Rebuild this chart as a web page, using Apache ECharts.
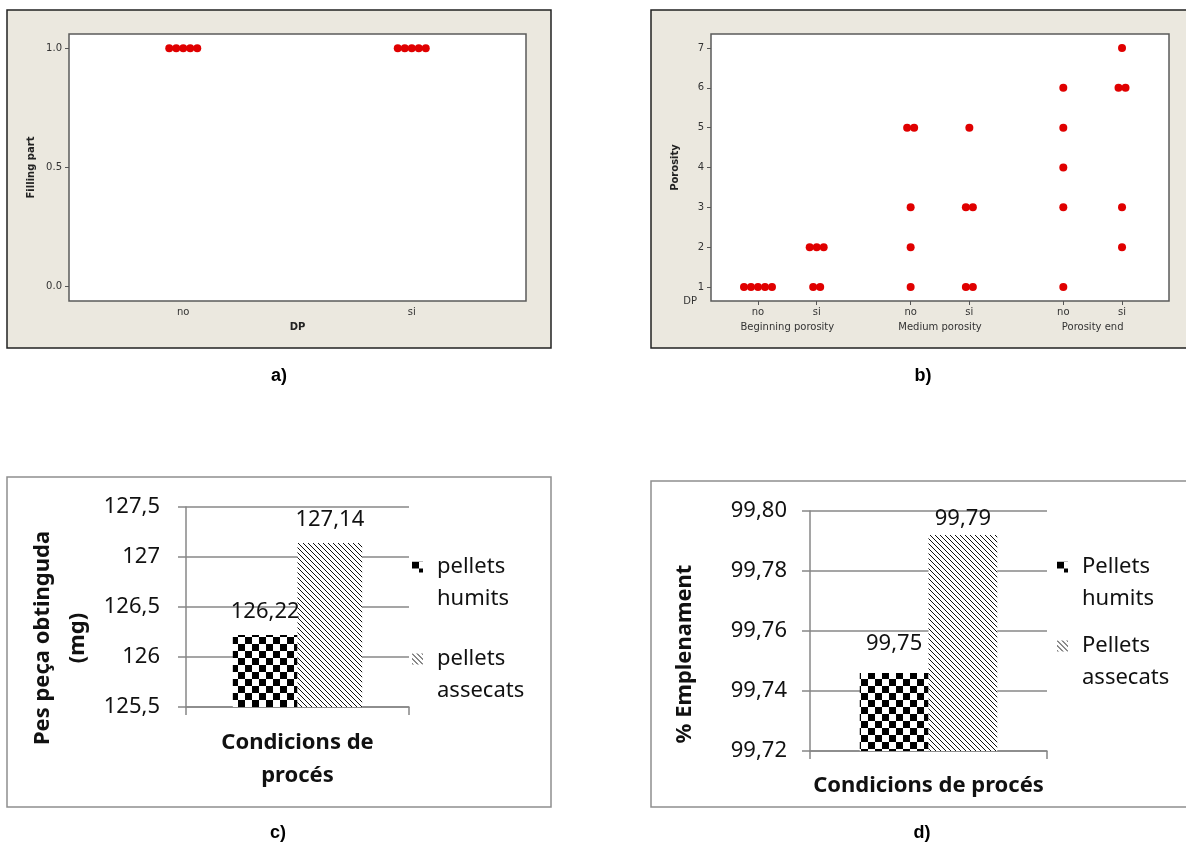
<!DOCTYPE html>
<html>
<head>
<meta charset="utf-8">
<script src="https://cdn.jsdelivr.net/npm/echarts@6/dist/echarts.min.js"></script>
<style>
  html, body { margin: 0; padding: 0; background: #fff; }
  #main { width: 1186px; height: 850px; }
</style>
</head>
<body>
<div id="main"></div>
<script>
// a) filling part by DP
const dpLevels = ['no', 'si'];
const fillingNo = [1, 1, 1, 1, 1];
const fillingSi = [1, 1, 1, 1, 1];
const fillingTicks = [0, 0.5, 1];

// b) porosity by zone and DP
const zones = ['Beginning porosity', 'Medium porosity', 'Porosity end'];
const porosityNo = [[1, 1, 1, 1, 1], [1, 2, 3, 5, 5], [1, 3, 4, 5, 6]];
const porositySi = [[1, 1, 2, 2, 2], [1, 1, 3, 3, 5], [2, 3, 6, 6, 7]];
const porosityTicks = [1, 2, 3, 4, 5, 6, 7];

// c) weight of the part
const weightNames = ['pellets humits', 'pellets assecats'];
const weightValues = [126.22, 127.14];

// d) filling percentage
const fillNames = ['Pellets humits', 'Pellets assecats'];
const fillValues = [99.746, 99.792];

const minitabFont = 'DejaVu Sans';
const excelFont = 'Noto Sans';
const dotRed = '#e00000';
const gridGray = '#878787';

// dot plot: equal values are laid side by side around the x position
function dotData(x, values) {
  const count = {}, seen = {};
  values.forEach(v => { count[v] = (count[v] || 0) + 1; });
  return values.map(v => {
    const k = seen[v] = (seen[v] || 0) + 1;
    return { value: [x, v], symbolOffset: [(k - 1 - (count[v] - 1) / 2) * 7, 0] };
  });
}

// b positions: two DP levels per zone, a wider gap between zones
const zoneStep = 2.6;
const slotX = [];
zones.forEach((z, zi) => dpLevels.forEach((d, j) => slotX.push(zi * zoneStep + j)));
const zoneX = zones.map((z, zi) => zi * zoneStep + 0.5);

let porosityDots = [];
zones.forEach((z, zi) => {
  porosityDots = porosityDots.concat(dotData(slotX[zi * 2], porosityNo[zi]));
  porosityDots = porosityDots.concat(dotData(slotX[zi * 2 + 1], porositySi[zi]));
});

function checker() {
  const c = document.createElement('canvas');
  c.width = c.height = 14;
  const g = c.getContext('2d');
  g.fillStyle = '#fff'; g.fillRect(0, 0, 14, 14);
  g.fillStyle = '#000'; g.fillRect(0, 0, 7, 7); g.fillRect(7, 7, 7, 7);
  return c;
}
function hatch() {
  const s = 5;
  const c = document.createElement('canvas');
  c.width = c.height = s;
  const g = c.getContext('2d');
  g.fillStyle = '#fff'; g.fillRect(0, 0, s, s);
  g.strokeStyle = '#111'; g.lineWidth = 1;
  g.beginPath();
  g.moveTo(-1, -1); g.lineTo(s + 1, s + 1);
  g.moveTo(-1, s - 1); g.lineTo(1, s + 1);
  g.moveTo(s - 1, -1); g.lineTo(s + 1, 1);
  g.stroke();
  return c;
}
const patterns = [
  { image: checker(), repeat: 'repeat' },
  { image: hatch(), repeat: 'repeat' }
];

const comma = (v, d) => (d == null ? String(v) : v.toFixed(d)).replace('.', ',');

const mtLabel = { fontFamily: minitabFont, fontSize: 10, color: '#333' };
const mtTitle = { fontFamily: minitabFont, fontSize: 10, fontWeight: 'bold', color: '#222' };
const xlText = { fontFamily: excelFont, fontSize: 22, color: '#111' };

function panelLabel(text, x, y) {
  return { type: 'text', x: x, y: y, style: { text: text, fill: '#000', font: 'bold 18px "Liberation Sans"', textAlign: 'center', textVerticalAlign: 'middle' } };
}

const chart = echarts.init(document.getElementById('main'));

chart.setOption({
  animation: false,
  backgroundColor: '#fff',
  graphic: [
    { type: 'rect', z: -10, shape: { x: 7, y: 10, width: 544, height: 338 }, style: { fill: '#ebe8df', stroke: '#222', lineWidth: 1.5 } },
    { type: 'rect', z: -10, shape: { x: 651, y: 10, width: 544, height: 338 }, style: { fill: '#ebe8df', stroke: '#222', lineWidth: 1.5 } },
    { type: 'rect', z: -10, shape: { x: 7, y: 477, width: 544, height: 330 }, style: { fill: '#fff', stroke: '#8f8f8f', lineWidth: 1.5 } },
    { type: 'rect', z: -10, shape: { x: 651, y: 481, width: 544, height: 326 }, style: { fill: '#fff', stroke: '#8f8f8f', lineWidth: 1.5 } },
    panelLabel('a)', 279, 376),
    panelLabel('b)', 923, 376),
    panelLabel('c)', 278, 833),
    panelLabel('d)', 922, 833)
  ],
  grid: [
    { left: 69, top: 34, width: 457, height: 267, show: true, backgroundColor: '#fff', borderColor: '#5b5b5b', borderWidth: 1.5 },
    { left: 711, top: 34, width: 458, height: 267, show: true, backgroundColor: '#fff', borderColor: '#5b5b5b', borderWidth: 1.5 },
    { left: 186, top: 507, width: 223, height: 200 },
    { left: 810, top: 511, width: 237, height: 240 }
  ],
  xAxis: [
    {
      gridIndex: 0, type: 'category', data: dpLevels, boundaryGap: true,
      axisLine: { show: false, onZero: false },
      axisTick: { alignWithLabel: true, length: 4, lineStyle: { color: '#555' } },
      axisLabel: Object.assign({ margin: 6 }, mtLabel),
      splitLine: { show: false },
      name: 'DP', nameLocation: 'middle', nameGap: 21, nameTextStyle: mtTitle
    },
    {
      gridIndex: 1, type: 'value', min: -0.8, max: 7.0,
      axisLine: { show: false, onZero: false },
      axisTick: { show: true, customValues: slotX, length: 4, lineStyle: { color: '#555' } },
      axisLabel: Object.assign({
        margin: 6, customValues: slotX,
        formatter: v => dpLevels[slotX.findIndex(x => Math.abs(x - v) < 1e-6) % 2]
      }, mtLabel),
      splitLine: { show: false },
      name: 'DP', nameLocation: 'start', nameGap: 14,
      nameTextStyle: Object.assign({ padding: [24, 0, 0, 0] }, mtLabel)
    },
    {
      gridIndex: 1, type: 'value', min: -0.8, max: 7.0, position: 'bottom',
      axisLine: { show: false, onZero: false }, axisTick: { show: false }, splitLine: { show: false },
      axisLabel: Object.assign({
        margin: 21, customValues: zoneX,
        formatter: v => zones[zoneX.findIndex(x => Math.abs(x - v) < 1e-6)]
      }, mtLabel)
    },
    {
      gridIndex: 2, type: 'category', data: ['Condicions de procés'], boundaryGap: true,
      axisLine: { onZero: false, lineStyle: { color: gridGray, width: 1.5 } },
      axisTick: { show: true, length: 8, lineStyle: { color: gridGray, width: 1.5 } },
      axisLabel: { show: false },
      name: 'Condicions de\nprocés', nameLocation: 'middle', nameGap: 19,
      nameTextStyle: Object.assign({}, xlText, { fontWeight: 'bold', lineHeight: 33 })
    },
    {
      gridIndex: 3, type: 'category', data: ['Condicions de procés'], boundaryGap: true,
      axisLine: { onZero: false, lineStyle: { color: gridGray, width: 1.5 } },
      axisTick: { show: true, length: 8, lineStyle: { color: gridGray, width: 1.5 } },
      axisLabel: { show: false },
      name: 'Condicions de procés', nameLocation: 'middle', nameGap: 20,
      nameTextStyle: Object.assign({}, xlText, { fontWeight: 'bold', lineHeight: 30 })
    }
  ],
  yAxis: [
    {
      gridIndex: 0, type: 'value', min: -0.06, max: 1.06,
      axisLine: { show: false, onZero: false },
      axisTick: { show: true, customValues: fillingTicks, length: 4, lineStyle: { color: '#555' } },
      axisLabel: Object.assign({ customValues: fillingTicks, formatter: v => v.toFixed(1), margin: 7 }, mtLabel),
      splitLine: { show: false },
      name: 'Filling part', nameLocation: 'middle', nameRotate: 90, nameGap: 33, nameTextStyle: mtTitle
    },
    {
      gridIndex: 1, type: 'value', min: 0.65, max: 7.35,
      axisLine: { show: false, onZero: false },
      axisTick: { show: true, customValues: porosityTicks, length: 4, lineStyle: { color: '#555' } },
      axisLabel: Object.assign({ customValues: porosityTicks, margin: 7 }, mtLabel),
      splitLine: { show: false },
      name: 'Porosity', nameLocation: 'middle', nameRotate: 90, nameGap: 31, nameTextStyle: mtTitle
    },
    {
      gridIndex: 2, type: 'value', min: 125.5, max: 127.5, interval: 0.5,
      axisLine: { show: true, onZero: false, lineStyle: { color: gridGray, width: 1.5 } },
      axisTick: { show: true, length: 8, lineStyle: { color: gridGray, width: 1.5 } },
      axisLabel: Object.assign({ margin: 26, formatter: v => comma(v) }, xlText),
      splitLine: { show: true, lineStyle: { color: gridGray, width: 1.5 } },
      name: 'Pes peça obtinguda\n(mg)', nameLocation: 'middle', nameRotate: 90, nameGap: 91,
      nameTextStyle: Object.assign({}, xlText, { fontWeight: 'bold', lineHeight: 35, padding: [0, 62, 0, 0] })
    },
    {
      gridIndex: 3, type: 'value', min: 99.72, max: 99.8, interval: 0.02,
      axisLine: { show: true, onZero: false, lineStyle: { color: gridGray, width: 1.5 } },
      axisTick: { show: true, length: 8, lineStyle: { color: gridGray, width: 1.5 } },
      axisLabel: Object.assign({ margin: 23, formatter: v => comma(v, 2) }, xlText),
      splitLine: { show: true, lineStyle: { color: gridGray, width: 1.5 } },
      name: '% Emplenament', nameLocation: 'middle', nameRotate: 90, nameGap: 110,
      nameTextStyle: Object.assign({}, xlText, { fontWeight: 'bold', lineHeight: 30, padding: [0, 46, 0, 0] })
    }
  ],
  legend: [
    {
      data: weightNames, left: 412, top: 519, orient: 'vertical', padding: 0,
      itemWidth: 11, itemHeight: 11, itemGap: -4, icon: 'rect',
      formatter: n => '\n' + n.replace(' ', '\n'),
      textStyle: Object.assign({}, xlText, { lineHeight: 32, padding: [0, 0, 0, 9] })
    },
    {
      data: fillNames, left: 1057, top: 519, orient: 'vertical', padding: 0,
      itemWidth: 11, itemHeight: 11, itemGap: -17, icon: 'rect',
      formatter: n => '\n' + n.replace(' ', '\n'),
      textStyle: Object.assign({}, xlText, { lineHeight: 32, padding: [0, 0, 0, 9] })
    }
  ],
  series: [
    {
      type: 'scatter', xAxisIndex: 0, yAxisIndex: 0, symbolSize: 8,
      itemStyle: { color: dotRed, opacity: 1 },
      data: dotData(0, fillingNo).concat(dotData(1, fillingSi))
    },
    {
      type: 'scatter', xAxisIndex: 1, yAxisIndex: 1, symbolSize: 8,
      itemStyle: { color: dotRed, opacity: 1 },
      data: porosityDots
    }
  ].concat(weightNames.map((n, i) => ({
    type: 'bar', name: n, xAxisIndex: 3, yAxisIndex: 2,
    barGap: '0%', barCategoryGap: '42%',
    itemStyle: { color: patterns[i] },
    label: Object.assign({ show: true, position: 'top', distance: 12, formatter: p => comma(p.value, 2) }, xlText),
    data: [weightValues[i]]
  }))).concat(fillNames.map((n, i) => ({
    type: 'bar', name: n, xAxisIndex: 4, yAxisIndex: 3,
    barGap: '0%', barCategoryGap: '42%',
    itemStyle: { color: patterns[i] },
    label: Object.assign({ show: true, position: 'top', distance: [18, 5][i], formatter: p => comma(p.value, 2) }, xlText),
    data: [fillValues[i]]
  })))
});
</script>
</body>
</html>
